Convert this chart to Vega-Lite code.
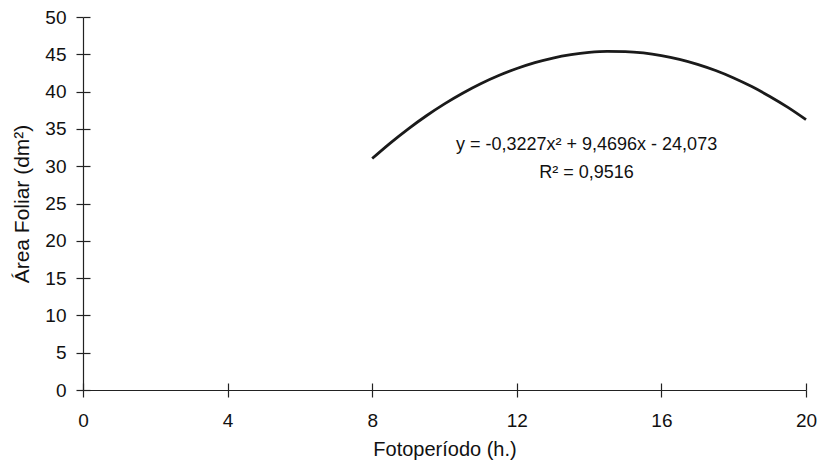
{
  "$schema": "https://vega.github.io/schema/vega-lite/v6.json",
  "autosize": {"type": "none"},
  "width": 723,
  "height": 373,
  "padding": {"left": 83, "top": 17, "right": 16, "bottom": 78},
  "background": "white",
  "config": {
    "view": {"stroke": null},
    "font": "Liberation Sans",
    "axis": {
      "grid": false,
      "domainColor": "#222222",
      "tickColor": "#222222",
      "domainWidth": 1.2,
      "tickWidth": 1.2,
      "labelColor": "#111111",
      "titleColor": "#111111",
      "labelFont": "Liberation Sans",
      "titleFont": "Liberation Sans",
      "labelFontSize": 19,
      "titleFontSize": 20,
      "titleFontWeight": "normal"
    }
  },
  "datasets": {
    "curve": [
      {"x": 8, "y": 31.03}, {"x": 8.5, "y": 33.10}, {"x": 9, "y": 35.01}, {"x": 9.5, "y": 36.76},
      {"x": 10, "y": 38.35}, {"x": 10.5, "y": 39.78}, {"x": 11, "y": 41.05}, {"x": 11.5, "y": 42.15},
      {"x": 12, "y": 43.09}, {"x": 12.5, "y": 43.88}, {"x": 13, "y": 44.50}, {"x": 13.5, "y": 44.95},
      {"x": 14, "y": 45.25}, {"x": 14.5, "y": 45.39}, {"x": 15, "y": 45.36}, {"x": 15.5, "y": 45.18},
      {"x": 16, "y": 44.83}, {"x": 16.5, "y": 44.32}, {"x": 17, "y": 43.65}, {"x": 17.5, "y": 42.82},
      {"x": 18, "y": 41.83}, {"x": 18.5, "y": 40.67}, {"x": 19, "y": 39.35}, {"x": 19.5, "y": 37.88},
      {"x": 20, "y": 36.24}
    ],
    "labels": [
      {"x": 13.93, "y": 32.84, "text": "y = -0,3227x² + 9,4696x - 24,073"},
      {"x": 13.93, "y": 29.09, "text": "R² = 0,9516"}
    ]
  },
  "layer": [
    {
      "data": {"name": "curve"},
      "mark": {"type": "line", "color": "#1a1a1a", "strokeWidth": 2.8, "interpolate": "monotone"},
      "encoding": {
        "x": {
          "field": "x", "type": "quantitative",
          "scale": {"domain": [0, 20], "nice": false, "zero": false},
          "axis": {"values": [0, 4, 8, 12, 16, 20], "tickSize": 7, "labelPadding": 14, "title": "Fotoperíodo (h.)", "titlePadding": 9, "labelFlush": false}
        },
        "y": {
          "field": "y", "type": "quantitative",
          "scale": {"domain": [0, 50], "nice": false},
          "axis": {"values": [0, 5, 10, 15, 20, 25, 30, 35, 40, 45, 50], "tickSize": 7, "labelPadding": 10, "title": "Área Foliar (dm²)", "titleFontSize": 21, "titlePadding": 12, "labelFlush": false}
        }
      }
    },
    {
      "data": {"name": "labels"},
      "mark": {"type": "text", "align": "center", "baseline": "middle", "font": "Liberation Sans", "fontSize": 18, "color": "#111111"},
      "encoding": {
        "x": {
          "field": "x", "type": "quantitative",
          "axis": {"orient": "bottom", "values": [0, 4, 8, 12, 16, 20], "tickSize": -7, "labels": false, "domain": false, "title": null}
        },
        "y": {
          "field": "y", "type": "quantitative",
          "axis": {"orient": "left", "values": [0, 5, 10, 15, 20, 25, 30, 35, 40, 45, 50], "tickSize": -7, "labels": false, "domain": false, "title": null}
        },
        "text": {"field": "text"}
      }
    }
  ],
  "resolve": {"axis": {"x": "independent", "y": "independent"}}
}
